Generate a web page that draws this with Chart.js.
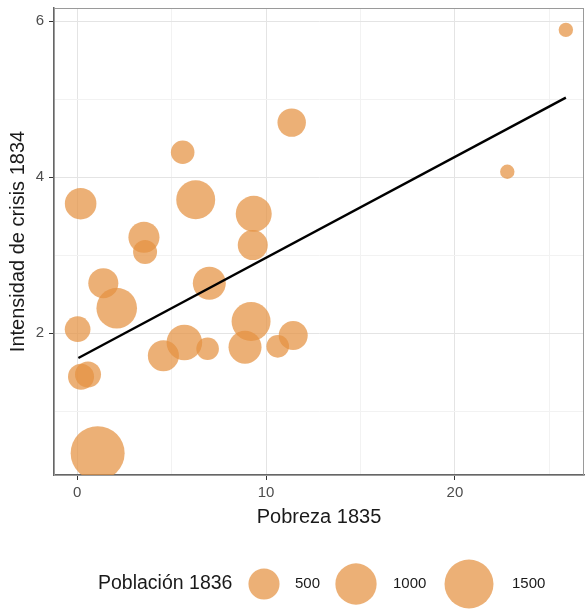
<!DOCTYPE html>
<html>
<head>
<meta charset="utf-8">
<script src="https://cdn.jsdelivr.net/npm/chart.js@4.4.1/dist/chart.umd.min.js"></script>
<style>
  html, body { margin: 0; padding: 0; background: #fff; }
  #grafico { display: block; }
</style>
</head>
<body>
<canvas id="grafico" width="585" height="610"></canvas>
<script>
// Datos
const pobreza = [25.87, 22.77, 11.36, 5.59, 0.19, 6.28, 9.35, 3.54, 3.60, 9.30, 1.39, 7.00,
                 2.10, 0.03, 9.21, 4.57, 5.68, 6.91, 8.89, 10.62, 11.44, 0.21, 0.58, 1.09];
const crisis = [5.89, 4.07, 4.70, 4.32, 3.66, 3.71, 3.53, 3.23, 3.04, 3.13, 2.64, 2.64,
                2.32, 2.05, 2.15, 1.71, 1.88, 1.80, 1.82, 1.83, 1.97, 1.44, 1.47, 0.46];
const poblacion = [80, 80, 400, 250, 520, 870, 720, 500, 260, 460, 460, 580,
                   960, 310, 870, 500, 700, 225, 580, 225, 420, 320, 320, 1880];

// recta de regresión (extremos)
const rectaX = [0.07, 25.87];
const rectaY = [1.68, 5.02];

const xTicks = [0, 5, 10, 15, 20, 25];
const xEtiquetas = [0, 10, 20];
const yTicks = [1, 2, 3, 4, 5, 6];
const yEtiquetas = [2, 4, 6];
const leyendaPoblacion = [500, 1000, 1500];

const colorBurbuja = 'rgba(228, 145, 65, 0.72)';
const fuente = "'Liberation Sans', Arial, sans-serif";

// tamaño de la burbuja según población
const radio = (p) => 4.3 + 0.53 * Math.sqrt(Math.max(p - 50, 0));

const puntos = pobreza.map((x, i) => ({ x: x, y: crisis[i], r: radio(poblacion[i]) }));
const recta = rectaX.map((x, i) => ({ x: x, y: rectaY[i] }));

const leyendaPlugin = {
    id: 'leyenda',
    afterDraw(chart) {
        const ctx = chart.ctx;
        const area = chart.chartArea;
        ctx.save();
        // borde del panel
        ctx.strokeStyle = '#9a9a9a';
        ctx.lineWidth = 1;
        ctx.strokeRect(area.left + 0.5, area.top + 0.5, area.right - area.left - 1, area.bottom - area.top);

        // leyenda de tamaños
        const yLeyenda = 584;
        ctx.fillStyle = '#1a1a1a';
        ctx.font = '19.5px ' + fuente;
        ctx.textAlign = 'left';
        ctx.textBaseline = 'middle';
        ctx.fillText('Población 1836', 98, yLeyenda);

        const centros = [264, 356, 469];
        const textos = [295, 393, 512];
        leyendaPoblacion.forEach((p, i) => {
            ctx.beginPath();
            ctx.arc(centros[i], yLeyenda, radio(p), 0, Math.PI * 2);
            ctx.fillStyle = colorBurbuja;
            ctx.fill();
            ctx.fillStyle = '#1a1a1a';
            ctx.font = '15px ' + fuente;
            ctx.fillText(String(p), textos[i], yLeyenda);
        });
        ctx.restore();
    }
};

const esMayor = (lista, ctx) => ctx.tick && lista.includes(ctx.tick.value);

new Chart(document.getElementById('grafico'), {
    data: {
        datasets: [
            {
                type: 'line',
                data: recta,
                borderColor: '#000',
                borderWidth: 2.4,
                pointRadius: 0,
                fill: false,
                order: 0,
            },
            {
                type: 'bubble',
                data: puntos,
                backgroundColor: colorBurbuja,
                borderWidth: 0,
                hoverRadius: 0,
                clip: 0,
                order: 1,
            },
        ],
    },
    options: {
        responsive: false,
        animation: false,
        events: [],
        layout: { autoPadding: false, padding: { top: 8, right: 1, left: 0, bottom: 0 } },
        plugins: {
            legend: { display: false },
            tooltip: { enabled: false },
        },
        scales: {
            x: {
                type: 'linear',
                min: -1.22,
                max: 26.83,
                afterBuildTicks: (scale) => { scale.ticks = xTicks.map((v) => ({ value: v })); },
                afterFit: (scale) => {
                    scale.height = 135;
                    scale.paddingLeft = 0;
                    scale.paddingRight = 0;
                },
                ticks: {
                    autoSkip: false,
                    maxRotation: 0,
                    padding: 4,
                    color: '#4d4d4d',
                    font: { family: fuente, size: 15 },
                    callback: (v) => (xEtiquetas.includes(v) ? String(v) : ''),
                },
                grid: {
                    color: (ctx) => (esMayor(xEtiquetas, ctx) ? '#e4e4e4' : '#f2f2f2'),
                    tickColor: (ctx) => (esMayor(xEtiquetas, ctx) ? '#333' : 'rgba(0,0,0,0)'),
                    tickLength: 5,
                    lineWidth: 1,
                },
                border: { display: true, color: '#666', width: 1.5 },
                title: {
                    display: true,
                    text: 'Pobreza 1835',
                    color: '#1a1a1a',
                    font: { family: fuente, size: 20 },
                    padding: { top: 0, bottom: 81 },
                },
            },
            y: {
                type: 'linear',
                min: 0.18,
                max: 6.17,
                afterBuildTicks: (scale) => { scale.ticks = yTicks.map((v) => ({ value: v })); },
                afterFit: (scale) => {
                    scale.width = 54;
                    scale.paddingTop = 0;
                    scale.paddingBottom = 0;
                },
                ticks: {
                    autoSkip: false,
                    padding: 5,
                    color: '#4d4d4d',
                    font: { family: fuente, size: 15 },
                    callback: (v) => (yEtiquetas.includes(v) ? String(v) : ''),
                },
                grid: {
                    color: (ctx) => (esMayor(yEtiquetas, ctx) ? '#e4e4e4' : '#f2f2f2'),
                    tickColor: (ctx) => (esMayor(yEtiquetas, ctx) ? '#333' : 'rgba(0,0,0,0)'),
                    tickLength: 5,
                    lineWidth: 1,
                },
                border: { display: true, color: '#666', width: 1.5 },
                title: {
                    display: true,
                    text: 'Intensidad de crisis 1834',
                    color: '#1a1a1a',
                    font: { family: fuente, size: 20 },
                    padding: { top: 6, bottom: 0 },
                },
            },
        },
    },
    plugins: [leyendaPlugin],
});
</script>
</body>
</html>
